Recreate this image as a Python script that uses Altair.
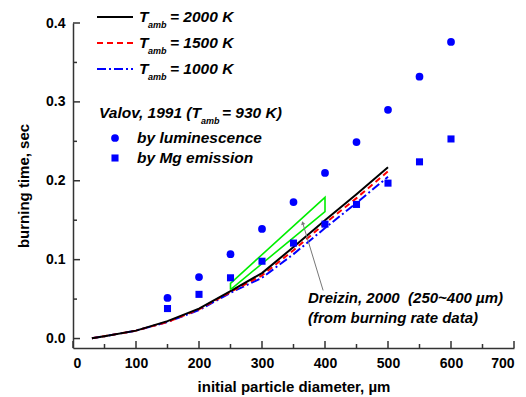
import altair as alt
import pandas as pd

# ---- data ----
diam_pts = [150, 200, 250, 300, 350, 400, 450, 500, 550, 600]
t_lum = [0.0515, 0.078, 0.107, 0.139, 0.173, 0.210, 0.249, 0.290, 0.332, 0.376]
t_mg = [0.038, 0.056, 0.077, 0.098, 0.121, 0.145, 0.170, 0.197, 0.224, 0.253]

diam_line = [30, 50, 100, 150, 200, 250, 300, 350, 400, 450, 500]
t_2000 = [0.0005, 0.003, 0.010, 0.022, 0.038, 0.060, 0.083, 0.116, 0.150, 0.183, 0.217]
t_1500 = [0.0005, 0.003, 0.010, 0.021, 0.037, 0.059, 0.080, 0.112, 0.146, 0.178, 0.212]
t_1000 = [0.0005, 0.003, 0.010, 0.021, 0.036, 0.058, 0.077, 0.107, 0.140, 0.172, 0.205]

dreizin_x = [250, 400, 400, 250, 250]
dreizin_y = [0.062, 0.161, 0.179, 0.070, 0.062]

arrow_x = [397, 364.6]
arrow_y = [0.061, 0.1465]

x_major = [0, 100, 200, 300, 400, 500, 600, 700]
x_minor = [50, 150, 250, 350, 450, 550, 650]
y_major = [0.0, 0.1, 0.2, 0.3, 0.4]
y_minor = [0.05, 0.15, 0.25, 0.35]

FONT = "Liberation Sans"
W, H = 441, 325
L, T = 73, 23

xs = alt.Scale(domain=[0, 700], nice=False, zero=False)
ys = alt.Scale(domain=[-0.012, 0.4], nice=False, zero=False)
xaxis = alt.Axis(values=x_major, format="d", title="initial particle diameter, \u00b5m",
                 tickSize=0, labelPadding=8, titlePadding=9, grid=False)
yaxis = alt.Axis(values=y_major, format=".1f", title="burning time, sec",
                 tickSize=0, labelPadding=8, titlePadding=14, grid=False)
X = alt.X("x:Q", scale=xs, axis=xaxis)
Y = alt.Y("y:Q", scale=ys, axis=yaxis)


def df(x, y):
    return pd.DataFrame({"x": x, "y": y})


line_2000 = alt.Chart(df(diam_line, t_2000)).mark_line(color="black", strokeWidth=2).encode(x=X, y=Y)
line_1500 = alt.Chart(df(diam_line, t_1500)).mark_line(color="#ff0000", strokeWidth=2, strokeDash=[6, 4]).encode(x=X, y=Y)
line_1000 = alt.Chart(df(diam_line, t_1000)).mark_line(color="#0000ff", strokeWidth=2, strokeDash=[9, 3, 2, 3]).encode(x=X, y=Y)

dz = df(dreizin_x, dreizin_y)
dz["o"] = range(len(dz))
green = alt.Chart(dz).mark_line(color="#00ee00", strokeWidth=1.6).encode(x=X, y=Y, order="o:Q")

arrow = alt.Chart(df(arrow_x, arrow_y)).mark_line(color="#777777", strokeWidth=1).encode(x=X, y=Y)
arrow_head = alt.Chart(df(arrow_x[1:], arrow_y[1:])).mark_point(
    shape="triangle-up", filled=True, color="#777777", size=18, angle=343, opacity=1).encode(x=X, y=Y)

lum = alt.Chart(df(diam_pts, t_lum)).mark_point(shape="circle", filled=True, color="#0000ff", size=60, opacity=1).encode(x=X, y=Y)
mg = alt.Chart(df(diam_pts, t_mg)).mark_point(shape="square", filled=True, color="#0000ff", size=50, opacity=1).encode(x=X, y=Y)

# inward ticks
xt_major = alt.Chart(pd.DataFrame({"x": x_major})).mark_rule(color="#333333", strokeWidth=1.5).encode(
    x=X, y=alt.value(H), y2=alt.value(H - 7))
xt_minor = alt.Chart(pd.DataFrame({"x": x_minor})).mark_rule(color="#333333", strokeWidth=1.5).encode(
    x=X, y=alt.value(H), y2=alt.value(H - 4))
yt_major = alt.Chart(pd.DataFrame({"y": y_major})).mark_rule(color="#333333", strokeWidth=1.5).encode(
    y=Y, x=alt.value(0), x2=alt.value(7))
yt_minor = alt.Chart(pd.DataFrame({"y": y_minor})).mark_rule(color="#333333", strokeWidth=1.5).encode(
    y=Y, x=alt.value(0), x2=alt.value(4))


def label(txt, px, py, size=15.5):
    return alt.Chart(pd.DataFrame({"t": [txt]})).mark_text(
        align="left", baseline="middle", font=FONT, fontSize=size, fontWeight="bold",
        fontStyle="italic", color="black").encode(
        text="t:N", x=alt.value(px - L), y=alt.value(py - T))


def sample(py, color, dash=None):
    kw = dict(color=color, strokeWidth=2)
    if dash:
        kw["strokeDash"] = dash
    return alt.Chart(pd.DataFrame({"a": [0]})).mark_rule(**kw).encode(
        x=alt.value(97 - L), x2=alt.value(133 - L), y=alt.value(py - T))


def sym(shape, py, size):
    return alt.Chart(pd.DataFrame({"a": [0]})).mark_point(
        shape=shape, filled=True, color="#0000ff", size=size, opacity=1).encode(
        x=alt.value(115 - L), y=alt.value(py - T))


legend = [
    sample(17, "black"), sample(43, "#ff0000", [6, 4]), sample(69, "#0000ff", [9, 3, 2, 3]),
]
for py, temp in [(17, "2000"), (43, "1500"), (69, "1000")]:
    legend += [label("T", 139, py), label("amb", 148, py + 8, 9), label("= " + temp + " K", 170, py)]
legend += [
    label("Valov, 1991 (T", 99, 113), label("amb", 201, 121, 9), label("= 930 K)", 222, 113),
    sym("circle", 138, 60), label("by luminescence", 137, 138),
    sym("square", 158, 50), label("by Mg emission", 137, 158),
    label("Dreizin, 2000\u00a0\u00a0(250~400 \u00b5m)", 308, 298, 15),
    label("(from burning rate data)", 308, 318, 15),
]

chart = alt.layer(
    line_1000, line_1500, line_2000, green, arrow, arrow_head, lum, mg,
    xt_major, xt_minor, yt_major, yt_minor, *legend
).properties(
    width=W, height=H,
    padding={"left": L, "top": T, "right": 526 - L - W, "bottom": 397 - T - H},
    autosize=alt.AutoSizeParams(type="none"),
).configure_view(stroke=None).configure_axis(
    domainColor="#333333", domainWidth=1.5,
    labelFont=FONT, labelFontWeight="bold", labelFontSize=14, labelColor="black",
    titleFont=FONT, titleFontWeight="bold", titleFontSize=15, titleColor="black",
)

chart.save("out.html", embed_options={"renderer": "svg", "actions": False})
